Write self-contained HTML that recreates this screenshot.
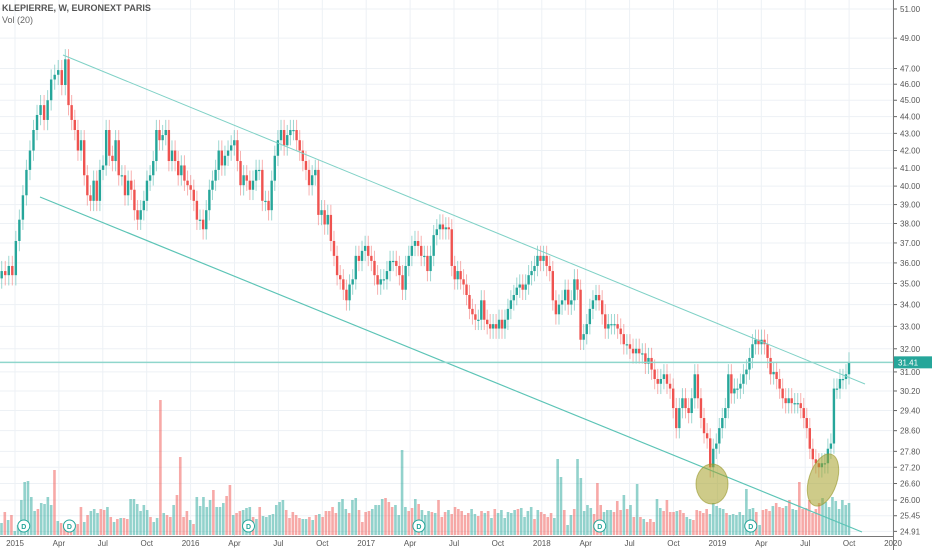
<!DOCTYPE html>
<html><head><meta charset="utf-8"><style>
html,body{margin:0;padding:0;background:#fff;}
svg{display:block;font-family:"Liberation Sans",sans-serif;}
</style></head><body>
<svg id="chart" width="932" height="550" viewBox="0 0 932 550" xmlns="http://www.w3.org/2000/svg">
<rect x="0" y="0" width="932" height="550" fill="#fff"/>
<g id="grid"></g>
<g id="vol"></g>
<g id="candles"></g>
<g id="overlay"></g>
<g id="axes"></g>
<text x="2" y="11" font-size="9" font-weight="bold" fill="#555">KLEPIERRE, W, EURONEXT PARIS</text>
<text x="2" y="23" font-size="9" fill="#666">Vol (20)</text>
</svg>
<script>
const closes=[35.6,35.4,35.85,35.4,37.1,38.2,39.5,40.9,42.0,43.2,44.1,44.7,43.8,45.0,46.3,46.6,46.9,45.95,47.6,44.7,43.8,43.2,42.0,42.6,40.6,39.5,39.2,40.3,39.2,40.9,41.15,43.2,41.7,41.4,42.6,40.6,40.6,39.5,40.3,39.8,38.7,38.2,38.7,39.2,40.3,40.6,41.4,43.2,42.6,42.9,43.2,41.4,42.0,41.4,40.6,41.15,40.3,40.05,39.8,39.2,38.2,38.2,37.7,38.7,39.8,40.3,40.9,42.0,41.15,41.7,42.0,42.3,42.6,41.4,40.05,40.6,40.3,39.8,40.3,40.9,40.9,39.2,39.2,38.7,40.3,41.7,42.6,43.2,42.3,42.9,43.2,43.2,42.6,42.0,41.4,40.9,40.05,40.6,40.9,38.45,38.7,37.95,38.45,37.1,36.35,35.4,35.2,34.7,34.2,34.95,35.2,36.35,36.1,36.6,36.85,36.35,36.1,35.4,34.95,35.2,35.2,35.6,36.1,36.1,35.85,35.4,34.7,35.85,36.35,36.85,37.1,36.85,36.35,36.35,35.6,36.35,37.4,37.7,37.95,37.7,37.8,37.7,35.85,35.2,35.6,35.2,34.95,34.45,33.8,33.55,33.3,33.3,34.2,33.3,33.1,32.9,33.1,32.9,33.3,32.9,33.3,33.8,34.2,34.45,34.8,34.95,34.7,34.95,35.4,35.6,35.85,36.35,36.1,36.35,35.85,35.6,34.2,33.55,34.0,34.2,34.7,34.0,34.2,35.2,34.7,32.4,32.65,33.1,33.8,34.2,34.45,34.2,33.55,32.9,33.1,33.1,33.1,32.9,32.65,32.2,32.2,32.0,31.8,32.0,31.8,31.8,31.35,31.6,31.1,30.7,30.5,30.7,30.9,30.5,30.3,29.5,28.7,29.5,29.9,29.5,29.3,29.9,30.9,29.9,29.1,28.5,28.3,27.2,27.9,28.1,28.7,29.1,29.5,30.9,30.1,30.3,30.3,30.5,30.9,31.1,31.6,32.2,32.4,32.2,32.4,32.2,31.6,30.9,31.0,30.7,30.3,29.9,29.7,29.9,29.7,29.7,29.7,29.5,29.1,28.7,27.9,27.5,27.35,27.2,27.35,27.35,27.9,28.1,30.3,30.3,30.7,30.7,30.9,31.41];
const volumes=[1.2,2.3,1.5,2.0,0.4,1.0,3.5,5.3,5.4,3.8,2.4,2.6,3.2,3.1,3.8,3.0,6.5,1.4,1.2,1.0,1.3,1.5,1.2,1.1,2.8,1.3,2.0,2.4,2.6,2.2,2.6,2.5,2.8,1.8,1.3,1.6,1.7,1.7,1.6,3.6,3.6,3.1,2.4,3.0,2.5,1.8,1.3,1.7,13.5,2.2,2.0,1.8,3.0,4.0,7.8,1.8,2.4,1.5,1.1,3.8,2.9,3.8,2.8,3.5,4.5,2.8,2.8,3.2,3.9,5.0,2.0,2.2,2.4,2.5,2.7,2.8,1.8,1.6,2.8,1.9,1.8,2.0,2.1,3.0,3.3,3.5,2.5,1.7,2.3,2.0,1.7,1.6,1.6,1.8,1.5,2.0,2.1,1.8,2.4,2.4,2.8,2.2,3.3,3.6,2.6,2.2,3.5,3.7,2.5,1.3,2.3,2.4,2.6,3.0,3.0,3.6,3.7,3.3,2.8,3.0,2.0,8.5,2.8,2.4,2.7,3.6,3.1,2.5,2.0,2.4,2.3,2.2,3.5,1.8,2.3,2.5,2.1,2.8,2.6,2.4,2.0,2.2,2.6,2.1,1.9,2.4,2.2,2.4,1.7,2.6,2.2,2.5,1.7,2.3,2.2,2.5,2.6,2.7,1.8,2.4,2.8,1.6,2.5,2.3,2.1,1.8,2.2,1.7,7.6,5.8,2.5,1.0,2.0,2.6,7.6,5.7,2.4,3.0,2.7,2.1,5.2,3.0,2.3,2.5,2.5,2.3,3.4,2.5,4.0,2.6,3.0,1.8,5.1,1.8,1.6,1.3,1.6,1.3,3.6,2.7,2.4,3.5,2.3,2.3,2.4,2.5,2.2,1.8,1.6,1.5,2.5,2.4,2.2,2.6,2.1,3.2,2.9,2.7,2.6,2.2,2.0,2.1,2.0,2.3,2.0,4.6,2.6,2.7,2.3,1.0,2.5,2.6,2.4,2.9,3.2,2.8,2.7,2.9,3.5,2.6,2.5,5.3,2.6,2.7,3.5,2.2,2.6,3.2,3.7,3.3,2.8,3.8,3.4,2.6,3.5,3.0,3.2];
const priceTicks=["51.00","49.00","47.00","46.00","45.00","44.00","43.00","42.00","41.00","40.00","39.00","38.00","37.00","36.00","35.00","34.00","33.00","32.00","31.00","30.20","29.40","28.60","27.80","27.20","26.60","26.00","25.45","24.91"];
const timeTicks=["2015","Apr","Jul","Oct","2016","Apr","Jul","Oct","2017","Apr","Jul","Oct","2018","Apr","Jul","Oct","2019","Apr","Jul","Oct","2020"];
const dividendDates=[2015.05,2015.31,2016.33,2017.30,2018.33,2019.19];
const lastPrice=31.41;

const NS="http://www.w3.org/2000/svg";
function mk(tag,attrs,parent){const e=document.createElementNS(NS,tag);for(const k in attrs)e.setAttribute(k,attrs[k]);parent.appendChild(e);return e;}
const yOf=p=>9+(Math.log(51)-Math.log(p))*729;
const X0=1.5,X1=849;
const knots=[[0,0],[58,66],[150,159],[430,440],[535,540],[708,712],[849,849],[900,900]];
function warp(x){for(let k=1;k<knots.length;k++){if(x<=knots[k][0]){const a=knots[k-1],b=knots[k];return a[1]+(x-a[0])*(b[1]-a[1])/(b[0]-a[0]);}}return x;}
const step=(X1-X0)/(closes.length-1);
const xOf=i=>warp(X0+i*step);
const vstep=(X1-X0)/(volumes.length-1);
const vx=j=>X0+j*vstep;
const tx=k=>15+k*43.9;
const dateX=d=>15+(d-2015)*175.6;
const volBase=535;
const vy=v=>volBase-v*10;
const UP="#26a69a",DN="#ef5350";

const grid=document.getElementById('grid'),axes=document.getElementById('axes');
priceTicks.forEach(t=>{const y=yOf(parseFloat(t));
 const l=mk('line',{x1:0,x2:893,y1:y,y2:y,stroke:'#edf1f5','stroke-width':1},grid);
 
 
 const tk=mk('line',{x1:893,x2:897,y1:y,y2:y,stroke:'#666'},axes);
 
 
 const tt=mk('text',{x:900,y:y+3,'font-size':8,fill:'#555'},axes);tt.textContent=t;
 
 
});
timeTicks.forEach((t,k)=>{const x=tx(k);
 const l=mk('line',{x1:x,x2:x,y1:0,y2:536,stroke:'#edf1f5'},grid);
 
 
 const tt=mk('text',{x:x,y:546,'font-size':8,fill:'#555','text-anchor':'middle'},axes);tt.textContent=t;
 
 
});
const a1=mk('line',{x1:893.5,x2:893.5,y1:0,y2:550,stroke:'#777'},axes);


const a2=mk('line',{x1:0,x2:893,y1:536.5,y2:536.5,stroke:'#777'},axes);



const cg=document.getElementById('candles');
const dirs=[];
closes.forEach((c,i)=>{const o=i?closes[i-1]:c*0.99;const up=c>=o;dirs.push(up);
 const col=up?UP:DN;const hi=Math.max(o,c)*1.014,lo=Math.min(o,c)*0.986;const x=xOf(i);
 const w=mk('line',{x1:x,x2:x,y1:yOf(hi),y2:yOf(lo),stroke:col,'stroke-opacity':0.45,'stroke-width':1},cg);
 
 
 const top=yOf(Math.max(o,c)),bot=yOf(Math.min(o,c));
 const b=mk('rect',{x:x-1.2,y:top,width:2.4,height:Math.max(1.2,bot-top),fill:col},cg);
 
 
});
const vg=document.getElementById('vol');
volumes.forEach((v,j)=>{const ci=Math.round(j*(closes.length-1)/(volumes.length-1));
 const r=mk('rect',{x:vx(j)-1.3,y:vy(v),width:2.6,height:volBase-vy(v),fill:dirs[ci]?UP:DN,'fill-opacity':0.5},vg);
 
 
});

const og=document.getElementById('overlay');
const ln1=mk('line',{x1:63,y1:55,x2:865,y2:384,stroke:'#7fd1c6','stroke-width':1},og);


const ln2=mk('line',{x1:40,y1:197,x2:862,y2:532,stroke:'#5cc4b6','stroke-width':1.2},og);


const ly=yOf(lastPrice);
const hl=mk('line',{x1:0,x2:893,y1:ly,y2:ly,stroke:'#8fd6cc','stroke-width':1.5},og);


const pb=mk('rect',{x:893,y:ly-6,width:39,height:12,fill:UP},og);


const pt=mk('text',{x:898,y:ly+3,'font-size':8,fill:'#fff'},og);pt.textContent=lastPrice.toFixed(2);


const e1=mk('ellipse',{cx:712,cy:484,rx:16,ry:20,fill:'rgba(165,160,40,0.55)',stroke:'rgba(150,150,40,0.6)'},og);


const e2=mk('ellipse',{cx:823,cy:480,rx:14,ry:27,fill:'rgba(165,160,40,0.55)',stroke:'rgba(150,150,40,0.6)',transform:'rotate(18 823 480)'},og);


dividendDates.forEach(d=>{const x=dateX(d);
 const c=mk('circle',{cx:x,cy:526,r:6,fill:'#fff',stroke:UP,'stroke-width':1},og);
 
 
 const t=mk('text',{x:x,y:529,'font-size':7,'font-weight':'bold',fill:UP,'text-anchor':'middle'},og);t.textContent='D';
 
 
});
</script>
</body></html>
